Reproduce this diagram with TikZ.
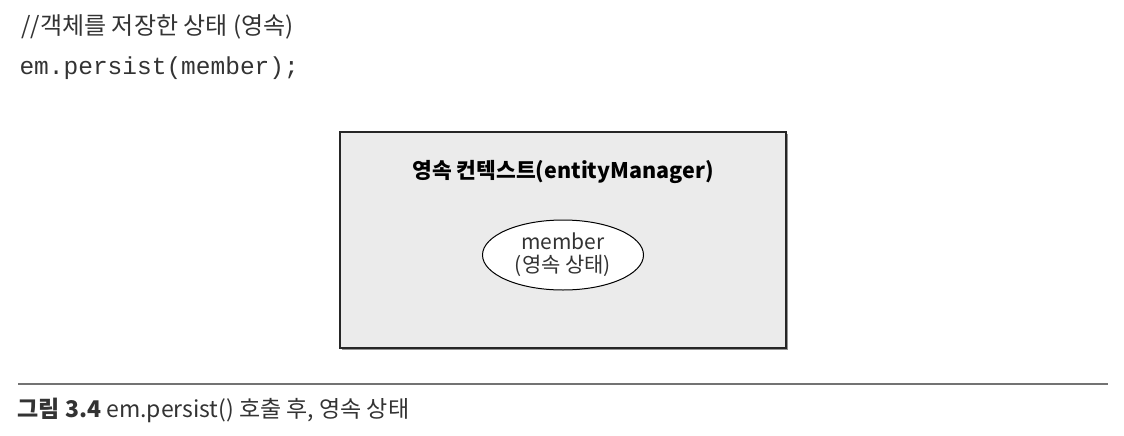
\documentclass[tikz,border=0pt]{standalone}
\usepackage{fontspec}
\setmainfont{Noto Sans CJK KR}
\newfontfamily\kr{Noto Sans CJK KR}
\newfontfamily\codefont{Liberation Mono}
\usetikzlibrary{shapes.geometric,shadows}
\definecolor{boxfill}{HTML}{EBEBEB}
\definecolor{txt}{HTML}{333333}
\begin{document}
\begin{tikzpicture}[x=1pt,y=-1pt,
  ctxbox/.style={draw=black!85,line width=1.2pt,fill=boxfill,
     drop shadow={shadow xshift=2pt,shadow yshift=-2pt,fill=black!60,opacity=0.7}},
  ent/.style={ellipse,draw=black,line width=1pt,fill=white,minimum width=161pt,minimum height=70pt,inner sep=0pt,align=center,font=\kr\fontsize{21}{23}\selectfont,text=txt}]
\useasboundingbox (0,0) rectangle (1124,436);
\node[anchor=west,font=\kr\fontsize{24}{26}\selectfont,text=txt] (cmt) at (18,27) {//객체를 저장한 상태 (영속)};
\node[anchor=west,font=\codefont\fontsize{24.5}{26}\selectfont,text=txt] (code) at (16,68) {em.persist(member);};
\node[ctxbox,minimum width=446pt,minimum height=216pt,inner sep=0pt] (ctx) at (563,240) {};
\node[font=\kr\bfseries\fontsize{21.5}{24}\selectfont,text=black] (title) at (563,172) {영속 컨텍스트(entityManager)};
\node[ent] (member) at (563,255) {member\\(영속 상태)};
\draw[line width=1.6pt,black!55] (18,384) coordinate (rl) -- (1108,384) coordinate (rr);
\node[anchor=west,font=\kr\fontsize{23}{26}\selectfont,text=txt] (cap) at (14,410) {\textbf{그림 3.4} em.persist() 호출 후, 영속 상태};
\end{tikzpicture}
\end{document}
